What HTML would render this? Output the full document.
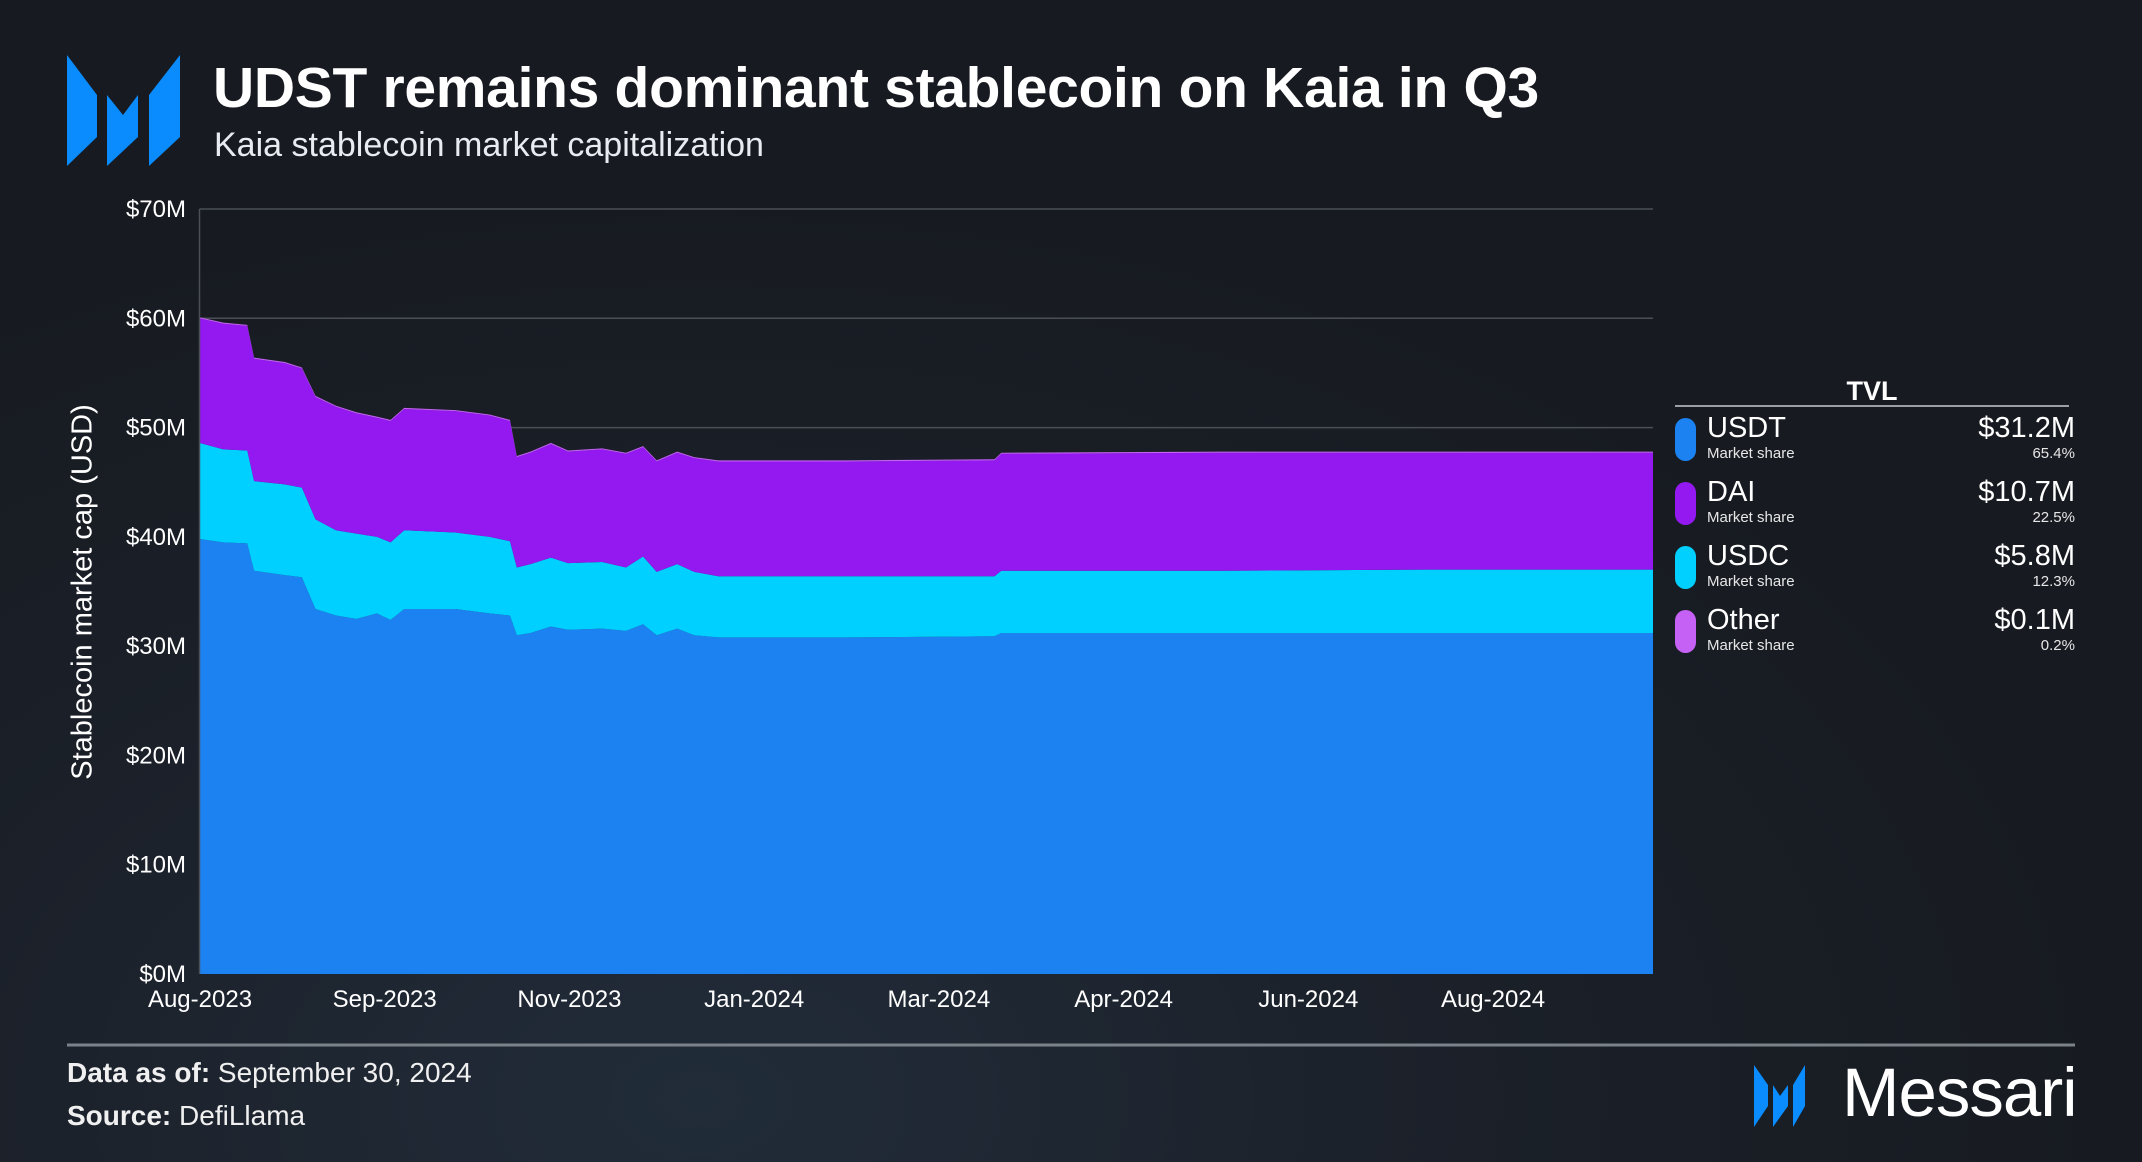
<!DOCTYPE html>
<html><head><meta charset="utf-8">
<style>
html,body{margin:0;padding:0;}
body{width:2142px;height:1162px;overflow:hidden;position:relative;font-family:"Liberation Sans",sans-serif;color:#fff;
background:radial-gradient(ellipse 1400px 900px at 700px 1100px,#212c39 0%,#1b2029 55%,#171b21 100%);}
.abs{position:absolute;white-space:nowrap;}
</style></head><body>
<svg class="abs" style="left:0;top:0" width="2142" height="1162">
  <g fill="#0a8cff">
    <polygon points="67,55 97,95 97,137 67,166"/>
    <polygon points="107,95 123,115 138,95 138,137 107,166"/>
    <polygon points="180,55 149,95 149,166 180,137"/>
  </g>
  <g id="plot"></g>
  <g fill="#0a8cff">
    <polygon points="1754,1065 1768,1085 1768,1106 1754,1127"/>
    <polygon points="1773,1085 1780,1096 1788,1085 1788,1106 1773,1127"/>
    <polygon points="1805,1065 1793,1085 1793,1127 1805,1106"/>
  </g>
  <line x1="67" y1="1045" x2="2075" y2="1045" stroke="#7b828a" stroke-width="3"/>
</svg>

<div class="abs" style="left:213px;top:55px;font-size:57px;font-weight:bold;letter-spacing:-0.3px">UDST remains dominant stablecoin on Kaia in Q3</div>
<div class="abs" style="left:214px;top:126px;font-size:34px;color:#e8ecf0">Kaia stablecoin market capitalization</div>
<div class="abs" style="left:83px;top:592px;font-size:29px;transform:translate(-50%,-50%) rotate(-90deg)">Stablecoin market cap (USD)</div>

<div class="abs" style="left:1675px;top:376px;width:400px;">
  <div style="position:absolute;left:0;width:394px;text-align:center;top:0;font-size:27px;font-weight:bold">TVL</div>
  <div style="position:absolute;left:0;top:29px;width:394px;height:2px;background:#9aa0a6"></div>
  <div id="legend-rows"></div>
</div>

<div class="abs" style="left:67px;top:1057px;font-size:28px;color:#f0f0f0"><b>Data as of:</b> September 30, 2024</div>
<div class="abs" style="left:67px;top:1100px;font-size:28px;color:#f0f0f0"><b>Source:</b> DefiLlama</div>
<div class="abs" style="left:1842px;top:1053px;font-size:69px;letter-spacing:-1px">Messari</div>

<script>
// ---- data (day offset from 2023-08-01, values in $M) ----
const days  = [0,7,14,16,25,30,34,40,46,52,56,60,75,85,91,93,97,103,108,118,125,130,134,140,145,152,190,233,235,300,360,426];
const usdt  = [39.8,39.5,39.4,36.9,36.5,36.3,33.4,32.8,32.5,33.0,32.4,33.4,33.4,33.0,32.8,31.0,31.2,31.8,31.5,31.6,31.4,32.0,31.0,31.6,31.0,30.8,30.8,30.9,31.2,31.2,31.2,31.2];
const usdc  = [8.8,8.5,8.5,8.2,8.3,8.2,8.2,7.8,7.8,7.0,7.1,7.2,7.0,7.0,6.8,6.2,6.3,6.3,6.1,6.1,5.8,6.2,5.8,5.9,5.8,5.6,5.6,5.5,5.7,5.7,5.8,5.8];
const dai   = [11.4,11.5,11.4,11.2,11.1,10.9,11.2,11.3,11.0,10.9,11.1,11.1,11.1,11.1,11.0,10.1,10.2,10.4,10.2,10.3,10.4,10.0,10.1,10.2,10.4,10.5,10.5,10.6,10.7,10.8,10.7,10.7];
const other = [0.1,0.1,0.1,0.1,0.1,0.1,0.1,0.1,0.1,0.1,0.1,0.1,0.1,0.1,0.1,0.1,0.1,0.1,0.1,0.1,0.1,0.1,0.1,0.1,0.1,0.1,0.1,0.1,0.1,0.1,0.1,0.1];
const yTicks = [0,10,20,30,40,50,60,70];
const xTickLabels = ["Aug-2023","Sep-2023","Nov-2023","Jan-2024","Mar-2024","Apr-2024","Jun-2024","Aug-2024"];
const legendNames = ["USDT","DAI","USDC","Other"];
const legendValues = ["$31.2M","$10.7M","$5.8M","$0.1M"];
const legendShares = ["65.4%","22.5%","12.3%","0.2%"];

const L=199.5,R=1653,T=209,B=974,maxDay=426,maxY=70;
const NS="http://www.w3.org/2000/svg";
const xS=d=>L+(R-L)*d/maxDay;
const yS=v=>B-(B-T)*v/maxY;
const plot=document.getElementById('plot');
function mk(tag,attrs){const e=document.createElementNS(NS,tag);for(const k in attrs)e.setAttribute(k,attrs[k]);return e;}

const series=[["usdt",usdt,"#1c82f2"],["usdc",usdc,"#00d0ff"],["dai",dai,"#9319f0"],["other",other,"#c562f5"]];
let base=days.map(()=>0);
series.forEach(([nm,vals,col])=>{
  const top=base.map((b,i)=>b+vals[i]);
  let d="M"+days.map((dd,i)=>xS(dd)+","+yS(top[i])).join("L");
  for(let i=days.length-1;i>=0;i--) d+="L"+xS(days[i])+","+yS(base[i]);
  d+="Z";
  const p=mk("path",{d:d,fill:col});
  
  
  plot.appendChild(p);
  base=top;
});

yTicks.forEach(v=>{
  if(v>0){
    const g=mk("line",{x1:L,x2:R,y1:yS(v),y2:yS(v),stroke:"#4a4f56","stroke-width":1.5});
    
    
    plot.insertBefore(g,plot.firstChild);
  }
  const t=mk("text",{x:186,y:yS(v)+8,"text-anchor":"end","font-size":24,fill:"#fff","font-family":"Liberation Sans, sans-serif"});
  t.textContent="$"+v+"M";
  
  
  plot.appendChild(t);
});
const ax=mk("line",{x1:L,x2:L,y1:T,y2:B,stroke:"#4a4f56","stroke-width":1.5});


plot.appendChild(ax);

const step=(1493-200)/(xTickLabels.length-1);
xTickLabels.forEach((lab,i)=>{
  const t=mk("text",{x:200+i*step,y:1007,"text-anchor":"middle","font-size":24,fill:"#fff","font-family":"Liberation Sans, sans-serif"});
  t.textContent=lab;
  
  
  plot.appendChild(t);
});

const cols=["#1c82f2","#9319f0","#00d0ff","#c562f5"];
const rows=document.getElementById('legend-rows');
legendNames.forEach((n,i)=>{
  const r=document.createElement('div');
  
  
  r.style.cssText="position:absolute;left:0;width:400px;height:60px;top:"+(42+i*64)+"px";
  r.innerHTML='<div style="position:absolute;left:0;top:0;width:21px;height:43px;border-radius:11px;background:'+cols[i]+'"></div>'+
   '<div style="position:absolute;left:32px;top:-6px;font-size:29px">'+n+'</div>'+
   '<div style="position:absolute;left:32px;top:27px;font-size:15px;color:#e6e6e6">Market share</div>'+
   '<div style="position:absolute;right:0;top:-6px;font-size:29px">'+legendValues[i]+'</div>'+
   '<div style="position:absolute;right:0;top:27px;font-size:15px;color:#e6e6e6">'+legendShares[i]+'</div>';
  rows.appendChild(r);
});
</script>
</body></html>
